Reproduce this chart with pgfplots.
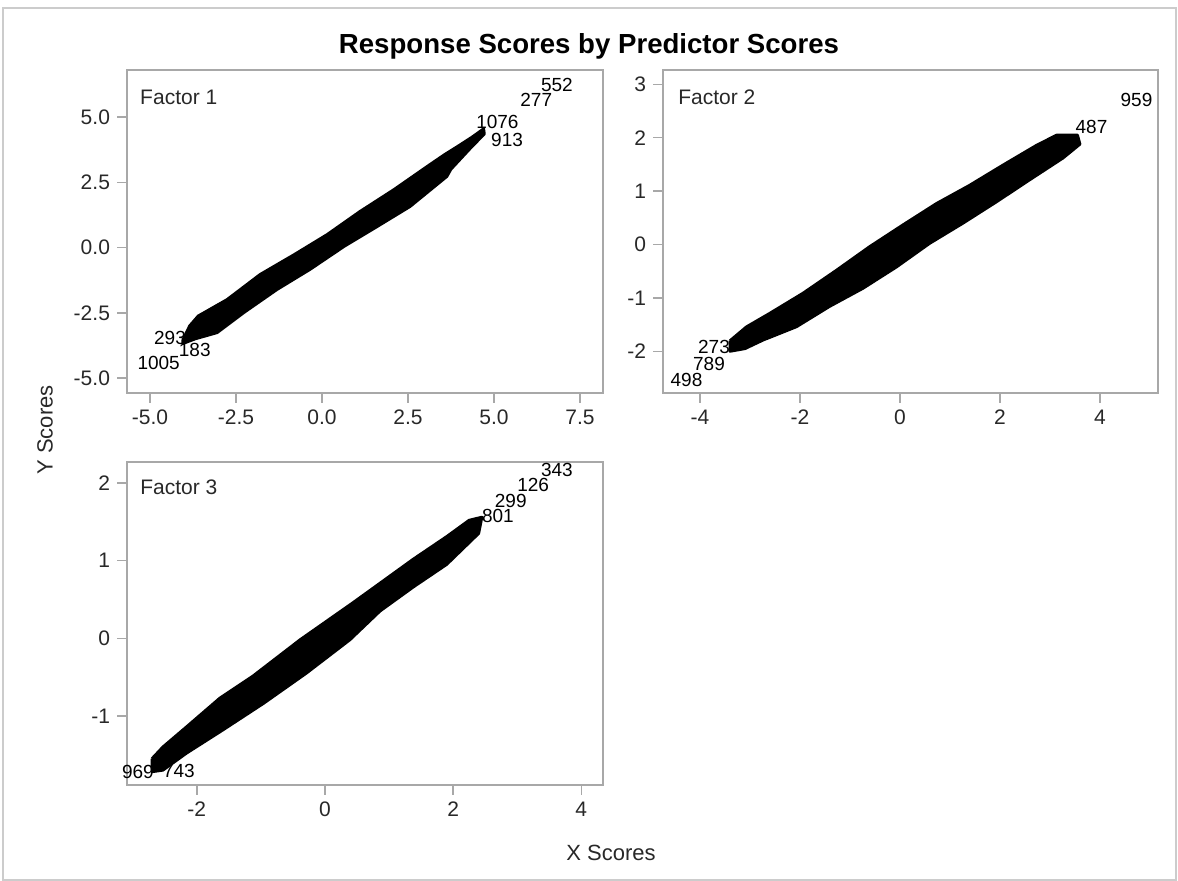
\documentclass[border=0pt]{standalone}
\usepackage{fontspec}
\setmainfont{Liberation Sans}
\usepackage{pgfplots}
\pgfplotsset{compat=1.18}

\definecolor{framegray}{RGB}{168,168,168}
\definecolor{labelgray}{RGB}{40,40,40}

\tikzset{
  panellabel/.style={anchor=west, inner sep=0pt, font=\fontsize{10.5}{12}\selectfont, text=labelgray},
}
\pgfplotsset{
  scorepanel/.style={
    scale only axis, anchor=south west, clip=false,
    axis line style={framegray, line width=0.7pt},
    tick style={framegray, line width=0.7pt},
    major tick length=5pt,
    tick align=outside,
    xtick pos=left, ytick pos=left,
    ticklabel style={font=\fontsize{10.5}{12}\selectfont, text=labelgray},
    width=238pt, height=161.5pt,
  },
  % the dense cloud of overlapping observation labels, as one outline
  band/.style={fill=black, draw=black, line width=1.4pt, line join=round},
  obslabels/.style={only marks, mark=none, nodes near coords,
    point meta=explicit symbolic,
    every node near coord/.append style={anchor=center, inner sep=0pt,
      font=\fontsize{9.5}{10}\selectfont, text=black}},
}

\begin{document}
\begin{tikzpicture}
\path[use as bounding box] (0,0) rectangle (589pt,440.5pt);
\draw[black!20, line width=0.6pt] (1.5pt,0.5pt) rectangle (588pt,436.5pt);

\node[font=\bfseries\fontsize{13.8}{16}\selectfont] at (294.5pt,417.5pt) {Response Scores by Predictor Scores};
\node[rotate=90, font=\fontsize{11}{13}\selectfont, text=labelgray] at (22.5pt,225.5pt) {Y Scores};
\node[font=\fontsize{11}{13}\selectfont, text=labelgray] at (305.5pt,14pt) {X Scores};

% Factor 1
\begin{axis}[scorepanel, at={(63.5pt,244pt)},
  xmin=-5.67, xmax=8.17, ymin=-5.57, ymax=6.80,
  xtick={-5,-2.5,0,2.5,5,7.5}, xticklabels={-5.0,-2.5,0.0,2.5,5.0,7.5},
  ytick={-5,-2.5,0,2.5,5}, yticklabels={-5.0,-2.5,0.0,2.5,5.0}]
\addplot[band] coordinates {
  (-4.05,-3.55) (-3.85,-3.00) (-3.60,-2.62) (-2.76,-1.99) (-1.80,-1.03)
  (-0.81,-0.27) (0.15,0.50) (1.10,1.38) (2.09,2.22) (3.05,3.10)
  (3.55,3.55) (3.95,3.88) (4.35,4.22) (4.70,4.55) (4.72,4.35)
  (4.30,3.78) (3.75,3.00) (3.63,2.72) (2.56,1.57) (1.60,0.80)
  (0.64,0.04) (-0.35,-0.84) (-1.31,-1.61) (-2.27,-2.49) (-3.05,-3.26)
  (-3.69,-3.50) (-4.05,-3.68) (-4.05,-3.55)};
\addplot[obslabels] table[meta=obs] {
x y obs
6.83 6.23 552
6.23 5.65 277
5.10 4.80 1076
5.38 4.12 913
-4.75 -4.41 1005
-3.70 -3.92 183
-4.42 -3.45 293
};
\node[panellabel] at (rel axis cs:0.027,0.916) {Factor 1};
\end{axis}

% Factor 2
\begin{axis}[scorepanel, at={(331.5pt,244pt)}, width=247.5pt,
  xmin=-4.74, xmax=5.16, ymin=-2.78, ymax=3.27,
  xtick={-4,-2,0,2,4}, xticklabels={-4,-2,0,2,4},
  ytick={-2,-1,0,1,2,3}, yticklabels={-2,-1,0,1,2,3}]
\addplot[band] coordinates {
  (-3.40,-1.80) (-3.07,-1.54) (-2.61,-1.29) (-1.94,-0.91) (-1.27,-0.48)
  (-0.61,-0.04) (0.06,0.37) (0.73,0.77) (1.39,1.11) (2.06,1.49)
  (2.73,1.86) (3.13,2.05) (3.55,2.05) (3.60,1.88) (3.26,1.62) (2.59,1.21)
  (1.93,0.80) (1.26,0.40) (0.59,0.02) (-0.07,-0.42) (-0.74,-0.82)
  (-1.41,-1.16) (-2.07,-1.54) (-2.74,-1.79) (-3.10,-1.95) (-3.40,-2.00)
  (-3.40,-1.80)};
\addplot[obslabels] table[meta=obs] {
x y obs
4.73 2.71 959
3.83 2.21 487
-4.27 -2.54 498
-3.82 -2.24 789
-3.72 -1.92 273
};
\node[panellabel] at (rel axis cs:0.030,0.916) {Factor 2};
\end{axis}

% Factor 3
\begin{axis}[scorepanel, at={(63.5pt,48pt)},
  xmin=-3.09, xmax=4.34, ymin=-1.89, ymax=2.27,
  xtick={-2,0,2,4}, xticklabels={-2,0,2,4},
  ytick={-1,0,1,2}, yticklabels={-1,0,1,2}]
\addplot[band] coordinates {
  (-2.70,-1.55) (-2.53,-1.40) (-2.16,-1.14) (-1.64,-0.77) (-1.13,-0.49)
  (-0.39,-0.02) (0.44,0.46) (1.38,1.02) (1.90,1.31) (2.25,1.52)
  (2.45,1.56) (2.40,1.35) (2.15,1.15) (1.90,0.95) (1.38,0.66) (0.86,0.35)
  (0.39,-0.02) (-0.29,-0.45) (-0.96,-0.84) (-1.59,-1.18) (-2.16,-1.48)
  (-2.53,-1.70) (-2.70,-1.72) (-2.70,-1.55)};
\addplot[obslabels] table[meta=obs] {
x y obs
3.62 2.17 343
3.25 1.97 126
2.90 1.77 299
2.70 1.57 801
-2.92 -1.72 969
-2.28 -1.71 743
};
\node[panellabel] at (rel axis cs:0.027,0.923) {Factor 3};
\end{axis}
\end{tikzpicture}
\end{document}
